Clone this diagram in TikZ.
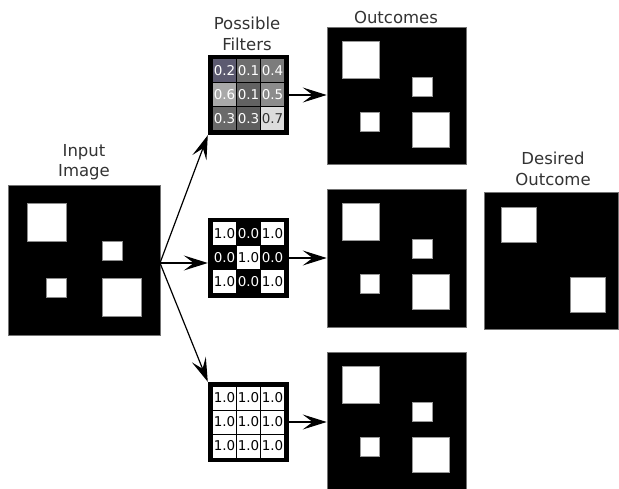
\documentclass[tikz,border=0pt]{standalone}
\usepackage{fontspec}
\setmainfont{DejaVu Sans}
\usetikzlibrary{arrows.meta}
\definecolor{txt}{HTML}{333333}
\definecolor{ca}{HTML}{5C5A70}
\definecolor{cb}{HTML}{6E6E6E}
\definecolor{cc}{HTML}{7C7C7C}
\definecolor{cd}{HTML}{A9A9A9}
\definecolor{ce}{HTML}{626262}
\definecolor{cf}{HTML}{8C8C8C}
\definecolor{cg}{HTML}{6A6A6A}
\definecolor{ch}{HTML}{5E5E5E}
\definecolor{ci}{HTML}{DCDCDC}
\begin{document}
\begin{tikzpicture}[x=1pt,y=-1pt,
  img/.style={draw=black!55, fill=black, line width=0.6pt, inner sep=0pt},
  filt/.style={fill=black, inner sep=0pt, minimum width=81pt, minimum height=80pt},
  cell/.style={inner sep=0pt, minimum size=23pt, font=\fontsize{13.5}{15}\selectfont},
  title/.style={align=center, text=txt, font=\fontsize{16.5}{20.5}\selectfont},
  arr/.style={line width=1.2pt, -{Stealth[length=24pt,width=15pt,inset=10pt]}},
  sharp/.style={fill=white, draw=black!45, line width=0.6pt},
  blur/.style={fill=white, draw=black!40!white, line width=1.5pt},
  insq/.pic={
    \path[sharp] (20,19) rectangle (59,57);
    \path[sharp] (95,57) rectangle (115,76);
    \path[sharp] (39,94) rectangle (59,113);
    \path[sharp] (95,94) rectangle (134,132);
  },
  outsq/.pic={
    \path[blur] (16,15) rectangle (53,52);
    \path[blur] (86,51) rectangle (106,70);
    \path[blur] (34,86) rectangle (53,105);
    \path[blur] (86,86) rectangle (123,121);
  },
  dessq/.pic={
    \path[sharp] (18,16) rectangle (53,51);
    \path[sharp] (87,86) rectangle (122,121);
  }]
\useasboundingbox (0,0) rectangle (619,489);

% titles
\node[title] (tin) at (84,162) {Input\\Image};
\node[title] (tpf) at (247,34) {Possible\\Filters};
\node[title] (tout) at (396,17) {Outcomes};
\node[title] (tdes) at (553,169) {Desired\\Outcome};

% input image
\node[img, minimum width=152pt, minimum height=150pt] (in) at (84,260) {};
\pic at (in.north west) {insq};

% outcomes
\node[img, minimum width=139pt, minimum height=137pt] (o1) at (396.5,95.5) {};
\pic at (o1.north west) {outsq};
\node[img, minimum width=139pt, minimum height=138pt] (o2) at (396.5,258) {};
\pic at (o2.north west) {outsq};
\node[img, minimum width=139pt, minimum height=137pt] (o3) at (396.5,420.5) {};
\pic at (o3.north west) {outsq};

% desired outcome
\node[img, minimum width=134pt, minimum height=137pt] (des) at (551,260.5) {};
\pic at (des.north west) {dessq};

% filters
\node[filt] (f1) at (248.5,95) {};
\node[filt] (f2) at (248.5,258) {};
\node[filt] (f3) at (248.5,422) {};

\begin{scope}[shift={(f1.center)}]
\foreach \cx/\cy/\v/\f/\t [count=\k] in
  {-24/-24/0.2/ca/white, 0/-24/0.1/cb/white, 24/-24/0.4/cc/white,
   -24/0/0.6/cd/white, 0/0/0.1/ce/white, 24/0/0.5/cf/white,
   -24/24/0.3/cg/white, 0/24/0.3/ch/white, 24/24/0.7/ci/txt}
  \node[cell, fill=\f, text=\t] (fa\k) at (\cx,\cy) {\v};
\end{scope}

\begin{scope}[shift={(f2.center)}]
\foreach \cx/\cy/\v/\f/\t [count=\k] in
  {-24/-24/1.0/white/black, 0/-24/0.0/black/white, 24/-24/1.0/white/black,
   -24/0/0.0/black/white, 0/0/1.0/white/black, 24/0/0.0/black/white,
   -24/24/1.0/white/black, 0/24/0.0/black/white, 24/24/1.0/white/black}
  \node[cell, fill=\f, text=\t] (fb\k) at (\cx,\cy) {\v};
\end{scope}

\begin{scope}[shift={(f3.center)}]
\foreach \cx/\cy [count=\k] in
  {-24/-24, 0/-24, 24/-24, -24/0, 0/0, 24/0, -24/24, 0/24, 24/24}
  \node[cell, fill=white, text=black] (fc\k) at (\cx,\cy) {1.0};
\end{scope}

% connectors
\coordinate (src) at (160,263);
\draw[arr] (src) -- (f1.south west);
\draw[arr] (src) -- (src -| f2.west);
\draw[arr] (src) -- (f3.north west);
\draw[arr] (f1.east) -- (f1.east -| o1.west);
\draw[arr] (f2.east) -- (f2.east -| o2.west);
\draw[arr] (f3.east) -- (f3.east -| o3.west);
\end{tikzpicture}
\end{document}
